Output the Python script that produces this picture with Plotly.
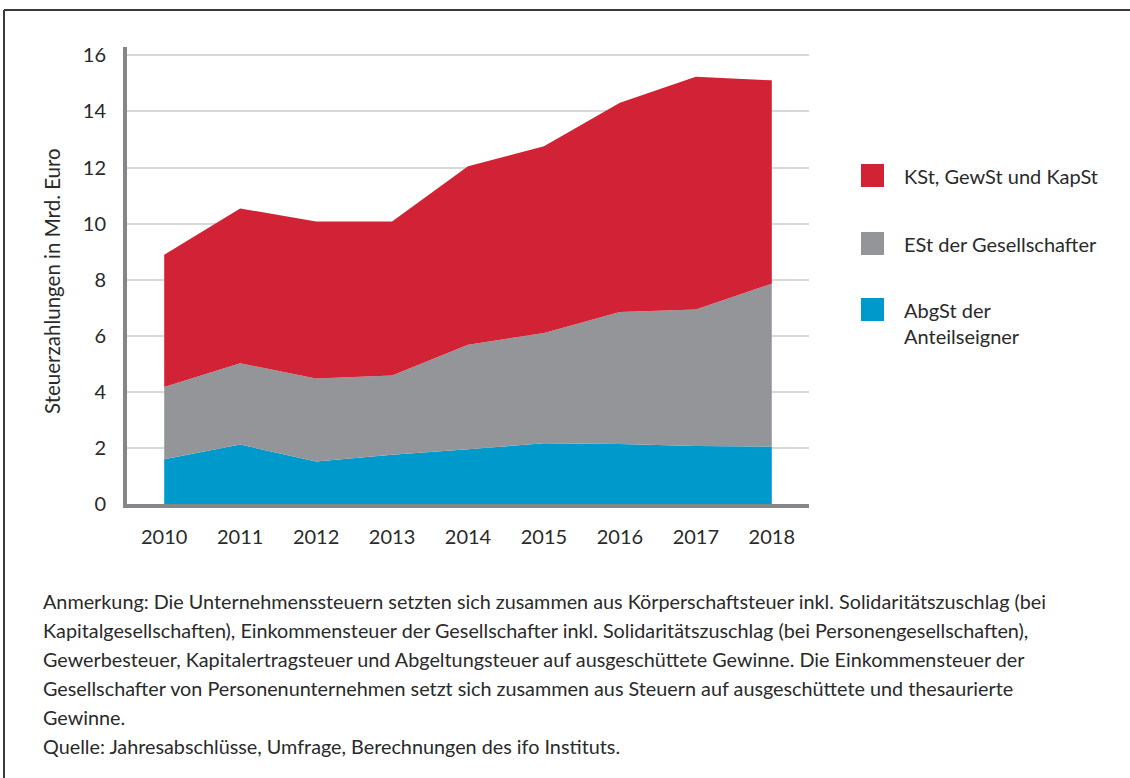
import plotly.graph_objects as go

years = [2010, 2011, 2012, 2013, 2014, 2015, 2016, 2017, 2018]
abgst = [1.60, 2.12, 1.52, 1.76, 1.95, 2.17, 2.14, 2.07, 2.05]
est = [2.57, 2.90, 2.96, 2.82, 3.73, 3.93, 4.71, 4.87, 5.81]
kst = [4.72, 5.52, 5.60, 5.50, 6.37, 6.66, 7.46, 8.30, 7.25]

series_names = ["AbgSt der Anteilseigner", "ESt der Gesellschafter", "KSt, GewSt und KapSt"]
legend_labels = ["KSt, GewSt und KapSt", "ESt der Gesellschafter", "AbgSt der<br>Anteilseigner"]
y_ticks = [0, 2, 4, 6, 8, 10, 12, 14, 16]
y_title = "Steuerzahlungen in Mrd. Euro"
note_lines = [
    "Anmerkung: Die Unternehmenssteuern setzten sich zusammen aus Körperschaftsteuer inkl. Solidaritätszuschlag (bei",
    "Kapitalgesellschaften), Einkommensteuer der Gesellschafter inkl. Solidaritätszuschlag (bei Personengesellschaften),",
    "Gewerbesteuer, Kapitalertragsteuer und Abgeltungsteuer auf ausgeschüttete Gewinne. Die Einkommensteuer der",
    "Gesellschafter von Personenunternehmen setzt sich zusammen aus Steuern auf ausgeschüttete und thesaurierte",
    "Gewinne.",
    "Quelle: Jahresabschlüsse, Umfrage, Berechnungen des ifo Instituts.",
]

RED = "#D12335"
GREY = "#949598"
BLUE = "#0099CC"
TEXT = "#2a2a2a"
FONT = "Lato"

W, H = 1130, 778
L, R, T, B = 127, 809, 47, 504


def px(x):
    return (x - L) / (R - L)


def py(y):
    return (B - y) / (B - T)


fig = go.Figure()
for name, vals, col in zip(series_names, [abgst, est, kst], [BLUE, GREY, RED]):
    fig.add_trace(go.Scatter(
        x=years, y=vals, name=name, stackgroup="one", mode="lines",
        line=dict(width=0, color=col), fillcolor=col, showlegend=False,
        hoverinfo="x+y+name",
    ))

shapes = []
annotations = []

# frame (top and left edges)
shapes.append(dict(type="line", xref="paper", yref="paper", x0=px(4), x1=px(1140), y0=py(10), y1=py(10),
                   line=dict(color="#3a3a3a", width=2), layer="above"))
shapes.append(dict(type="line", xref="paper", yref="paper", x0=px(4), x1=px(4), y0=py(10), y1=py(790),
                   line=dict(color="#3a3a3a", width=2), layer="above"))

# legend
leg_cols = [RED, GREY, BLUE]
leg_tops = [164, 232, 298]
for lab, col, top in zip(legend_labels, leg_cols, leg_tops):
    shapes.append(dict(type="rect", xref="paper", yref="paper", x0=px(861), x1=px(884),
                       y0=py(top + 23), y1=py(top), fillcolor=col, line=dict(width=0)))
    annotations.append(dict(xref="paper", yref="paper", x=px(902), y=py(top - 2), xanchor="left", yanchor="top",
                            text=lab, showarrow=False, align="left",
                            font=dict(family=FONT, size=20, color=TEXT)))

# y axis title
annotations.append(dict(xref="paper", yref="paper", x=px(52), y=py(281), xanchor="center", yanchor="middle",
                        text=y_title, textangle=-90, showarrow=False,
                        font=dict(family=FONT, size=20.5, color=TEXT)))

# note lines
for i, line in enumerate(note_lines):
    annotations.append(dict(xref="paper", yref="paper", x=px(41), y=py(601 + 29 * i), xanchor="left",
                            yanchor="middle", text=line, showarrow=False, align="left",
                            font=dict(family=FONT, size=19.8, color=TEXT)))

fig.update_layout(
    width=W, height=H,
    margin=dict(l=L, r=W - R, t=T, b=H - B),
    paper_bgcolor="white", plot_bgcolor="white",
    shapes=shapes, annotations=annotations,
    font=dict(family=FONT, color=TEXT),
    xaxis=dict(
        range=[2009.51, 2018.49], tickvals=years, ticktext=[str(y) for y in years],
        showgrid=False, zeroline=False, showline=True, linecolor="#848689", linewidth=4,
        ticks="", tickfont=dict(family=FONT, size=20, color=TEXT), ticklabelstandoff=12,
    ),
    yaxis=dict(
        range=[0, 16.3], tickvals=y_ticks, showgrid=True, gridcolor="#d8d8d9", gridwidth=2,
        zeroline=False, showline=True, linecolor="#848689", linewidth=4,
        ticks="", tickfont=dict(family=FONT, size=20, color=TEXT), ticklabelstandoff=13,
    ),
)

fig.write_html("out.html", config={"displayModeBar": False},
               post_script="document.body.style.margin='0';document.body.style.overflow='hidden';")
